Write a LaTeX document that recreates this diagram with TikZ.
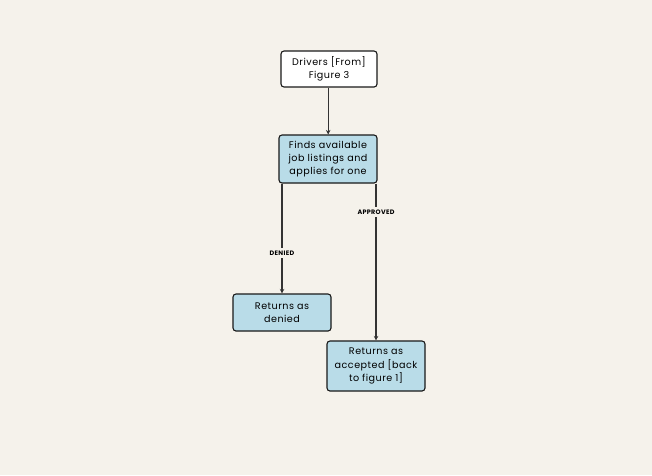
\documentclass[tikz,border=0pt]{standalone}
\usepackage{fontspec}
\setmainfont{Poppins}
\newfontfamily\spacedfont[LetterSpace=5]{Poppins}
\usetikzlibrary{arrows.meta}
\definecolor{paper}{HTML}{F5F2EB}
\definecolor{boxblue}{HTML}{B9DCE8}
\tikzset{
  card/.style={draw=black!90, line width=1.1pt, rounded corners=3pt, align=center,
    font=\spacedfont\fontsize{9.6}{13.2}\selectfont, inner sep=0pt},
  flow/.style={draw=black!80, line width=1.2pt, -{Stealth[length=4.5pt,width=4.5pt]}},
  tag/.style={fill=paper, font=\spacedfont\fontsize{6.4}{8}\bfseries\selectfont, inner sep=2.5pt}
}
\begin{document}
\begin{tikzpicture}[x=1pt,y=-1pt]
  \fill[paper] (0,0) rectangle (652,475);
  \useasboundingbox (0,0) rectangle (652,475);
  \node[card, fill=white, minimum width=96pt, minimum height=36pt] (drivers) at (329,69) {Drivers [From]\\Figure 3};
  \node[card, fill=boxblue, minimum width=98pt, minimum height=48pt] (finds) at (328,159) {Finds available\\job listings and\\applies for one};
  \node[card, fill=boxblue, minimum width=98pt, minimum height=37pt] (denied) at (282,312.5) {Returns as\\denied};
  \node[card, fill=boxblue, minimum width=98pt, minimum height=50pt] (accepted) at (376,366) {Returns as\\accepted [back\\to figure 1]};
  \coordinate (drop) at (328.2,87);
  \draw[flow] (drivers.south -| drop) -- (finds.north -| drop);
  \draw[flow] (finds.south -| denied.north) -- node[tag, pos=0.63] {DENIED} (denied.north);
  \draw[flow] (finds.south -| accepted.north) -- node[tag, pos=0.18] {APPROVED} (accepted.north);
\end{tikzpicture}
\end{document}
